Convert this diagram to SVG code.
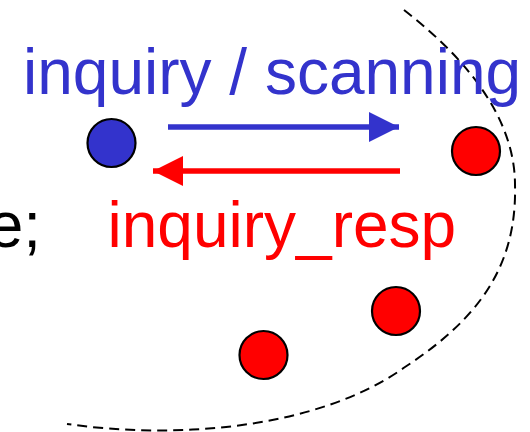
<svg xmlns="http://www.w3.org/2000/svg" width="530" height="432" viewBox="0 0 530 432">
  <style>
    .lbl { font-family: "Liberation Sans", Arial, Helvetica, sans-serif; font-size: 64px; }
    .node { stroke: #000000; stroke-width: 2.2; }
    .blue { fill: #3333CC; }
    .red { fill: #FF0000; }
    .boundary { fill: none; stroke: #000000; stroke-width: 2; stroke-dasharray: 10 6; }
  </style>
  <defs>
    <marker id="arrowBlue" markerUnits="userSpaceOnUse" markerWidth="30" markerHeight="30" refX="30" refY="15" orient="auto">
      <path d="M0,0 L30,15 L0,30 Z" fill="#3333CC"/>
    </marker>
    <marker id="arrowRed" markerUnits="userSpaceOnUse" markerWidth="30" markerHeight="30" refX="30" refY="15" orient="auto">
      <path d="M0,0 L30,15 L0,30 Z" fill="#FF0000"/>
    </marker>
  </defs>

  <g id="boundary">
    <path class="boundary" d="M404,10 C462,55 515,115 515,185 C517,265 480,318 405,367 C320,428 180,440 67,424"/>
  </g>

  <g id="labels">
    <text class="lbl" x="41" y="247" text-anchor="end" fill="#000000">e;</text>
  </g>

  <g id="connectors">
    <g id="edge-inquiry">
      <line x1="168" y1="127" x2="399" y2="127" stroke="#3333CC" stroke-width="5.5" marker-end="url(#arrowBlue)"/>
      <text class="lbl" x="23" y="94" fill="#3333CC">inquiry / scanning</text>
    </g>
    <g id="edge-response">
      <line x1="400" y1="171" x2="153" y2="171" stroke="#FF0000" stroke-width="5.5" marker-end="url(#arrowRed)"/>
      <text class="lbl" x="107.5" y="247" fill="#FF0000">inquiry_resp</text>
    </g>
  </g>

  <g id="node-master">
    <circle class="node blue" cx="111.5" cy="143" r="24"/>
  </g>
  <g id="node-slave1">
    <circle class="node red" cx="476" cy="151" r="24"/>
  </g>
  <g id="node-slave2">
    <circle class="node red" cx="396" cy="311" r="24"/>
  </g>
  <g id="node-slave3">
    <circle class="node red" cx="263.5" cy="355" r="24"/>
  </g>
</svg>
